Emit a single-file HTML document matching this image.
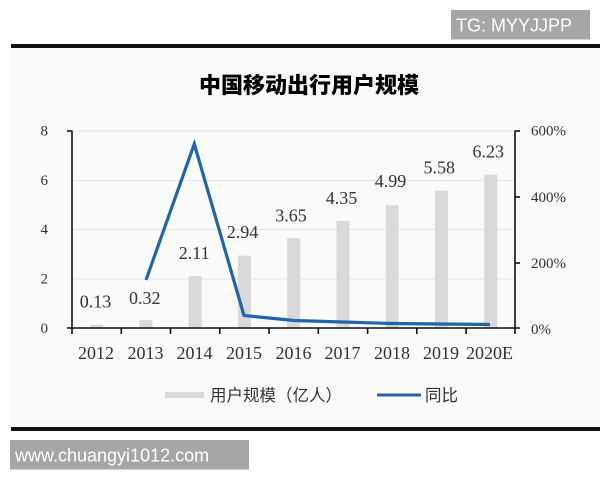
<!DOCTYPE html>
<html>
<head>
<meta charset="utf-8">
<style>
html,body{margin:0;padding:0;background:#fff;}
body{width:600px;height:480px;overflow:hidden;position:relative;}
svg{display:block;}
</style>
</head>
<body>
<svg width="600" height="480" viewBox="0 0 600 480" xmlns="http://www.w3.org/2000/svg">
  <rect x="0" y="0" width="600" height="480" fill="#ffffff"/>
  <rect x="11" y="48" width="589" height="379" fill="#fafafa"/>
  <!-- top watermark -->
  <rect x="451" y="10" width="139" height="29.5" fill="#a6a6a6"/>
  <text x="456" y="31.5" font-family="Liberation Sans, sans-serif" font-size="18" fill="#ffffff">TG: MYYJJPP</text>
  <!-- top black line -->
  <rect x="11" y="44" width="589" height="4" fill="#111"/>
  <!-- title -->
  <text x="309" y="93" text-anchor="middle" font-family="Liberation Sans, 'Noto Sans CJK SC', sans-serif" font-size="22" font-weight="900" fill="#000">中国移动出行用户规模</text>

  <!-- gridlines -->
  <g stroke="#e6e6e6" stroke-width="1">
    <line x1="72" y1="131" x2="515" y2="131"/>
    <line x1="72" y1="180.5" x2="515" y2="180.5"/>
    <line x1="72" y1="229.5" x2="515" y2="229.5"/>
    <line x1="72" y1="279" x2="515" y2="279"/>
  </g>

  <!-- bars -->
  <g fill="#d9d9d9">
    <rect x="90.1" y="324.8" width="13" height="3.2"/>
    <rect x="139.4" y="320.1" width="13" height="7.9"/>
    <rect x="188.6" y="276.1" width="13" height="51.9"/>
    <rect x="237.9" y="255.7" width="13" height="72.3"/>
    <rect x="287.2" y="238.2" width="13" height="89.8"/>
    <rect x="336.4" y="221" width="13" height="107"/>
    <rect x="385.7" y="205.2" width="13" height="122.8"/>
    <rect x="435" y="190.7" width="13" height="137.3"/>
    <rect x="484.2" y="174.7" width="13" height="153.3"/>
  </g>

  <!-- line -->
  <polyline points="146,280 194.3,144 244,315.5 294,320.5 343,322 392,323.5 441,324 490,324.5" fill="none" stroke="#2064ad" stroke-width="3.2" stroke-linejoin="miter"/>

  <!-- axes -->
  <g stroke="#111" stroke-width="1.6" fill="none">
    <line x1="72" y1="130.5" x2="72" y2="328.5"/>
    <line x1="67" y1="131" x2="72" y2="131"/>
    <line x1="67" y1="328" x2="520" y2="328"/>
    <line x1="515" y1="130.5" x2="515" y2="329"/>
    <line x1="515" y1="131" x2="520" y2="131"/>
    <line x1="515" y1="197" x2="520" y2="197"/>
    <line x1="515" y1="263" x2="520" y2="263"/>
    <line x1="72" y1="328" x2="72" y2="334"/>
    <line x1="121.3" y1="328" x2="121.3" y2="334"/>
    <line x1="170.5" y1="328" x2="170.5" y2="334"/>
    <line x1="219.8" y1="328" x2="219.8" y2="334"/>
    <line x1="269" y1="328" x2="269" y2="334"/>
    <line x1="318.3" y1="328" x2="318.3" y2="334"/>
    <line x1="367.6" y1="328" x2="367.6" y2="334"/>
    <line x1="416.8" y1="328" x2="416.8" y2="334"/>
    <line x1="466.1" y1="328" x2="466.1" y2="334"/>
    <line x1="515" y1="328" x2="515" y2="334"/>
  </g>

  <!-- left tick labels -->
  <g font-family="Liberation Serif, serif" font-size="15" fill="#333" text-anchor="end">
    <text x="48" y="135.5">8</text>
    <text x="48" y="185">6</text>
    <text x="48" y="234">4</text>
    <text x="48" y="283.5">2</text>
    <text x="48" y="333">0</text>
  </g>
  <!-- right tick labels -->
  <g font-family="Liberation Serif, serif" font-size="15" fill="#333" text-anchor="start">
    <text x="531" y="135.5">600%</text>
    <text x="531" y="202">400%</text>
    <text x="531" y="268">200%</text>
    <text x="531" y="334">0%</text>
  </g>

  <!-- x labels -->
  <g font-family="Liberation Serif, serif" font-size="18" fill="#333" text-anchor="middle">
    <text x="96" y="359">2012</text>
    <text x="145.5" y="359">2013</text>
    <text x="194.5" y="359">2014</text>
    <text x="244" y="359">2015</text>
    <text x="293.5" y="359">2016</text>
    <text x="342.5" y="359">2017</text>
    <text x="392" y="359">2018</text>
    <text x="441" y="359">2019</text>
    <text x="489.5" y="359">2020E</text>
  </g>

  <!-- data labels -->
  <g font-family="Liberation Serif, serif" font-size="18" fill="#333" text-anchor="middle">
    <text x="95.5" y="307.5">0.13</text>
    <text x="144.7" y="304">0.32</text>
    <text x="194.2" y="259">2.11</text>
    <text x="242.5" y="238">2.94</text>
    <text x="291" y="221.5">3.65</text>
    <text x="341.5" y="204">4.35</text>
    <text x="390.5" y="187">4.99</text>
    <text x="439.3" y="173.5">5.58</text>
    <text x="488.3" y="157.5">6.23</text>
  </g>

  <!-- legend -->
  <rect x="165" y="392" width="39" height="6" fill="#d9d9d9"/>
  <text x="210" y="401" font-family="Liberation Sans, 'Noto Sans CJK SC', sans-serif" font-size="16.5" fill="#333">用户规模（亿人）</text>
  <line x1="377" y1="395" x2="421" y2="395" stroke="#2064ad" stroke-width="3"/>
  <text x="425" y="401" font-family="Liberation Sans, 'Noto Sans CJK SC', sans-serif" font-size="16.5" fill="#333">同比</text>

  <!-- bottom black line -->
  <rect x="11" y="427" width="589" height="4" fill="#111"/>
  <!-- bottom watermark -->
  <rect x="10" y="440" width="239" height="29.5" fill="#a6a6a6"/>
  <text x="15" y="461.5" font-family="Liberation Sans, sans-serif" font-size="18" fill="#ffffff">www.chuangyi1012.com</text>
</svg>
</body>
</html>
